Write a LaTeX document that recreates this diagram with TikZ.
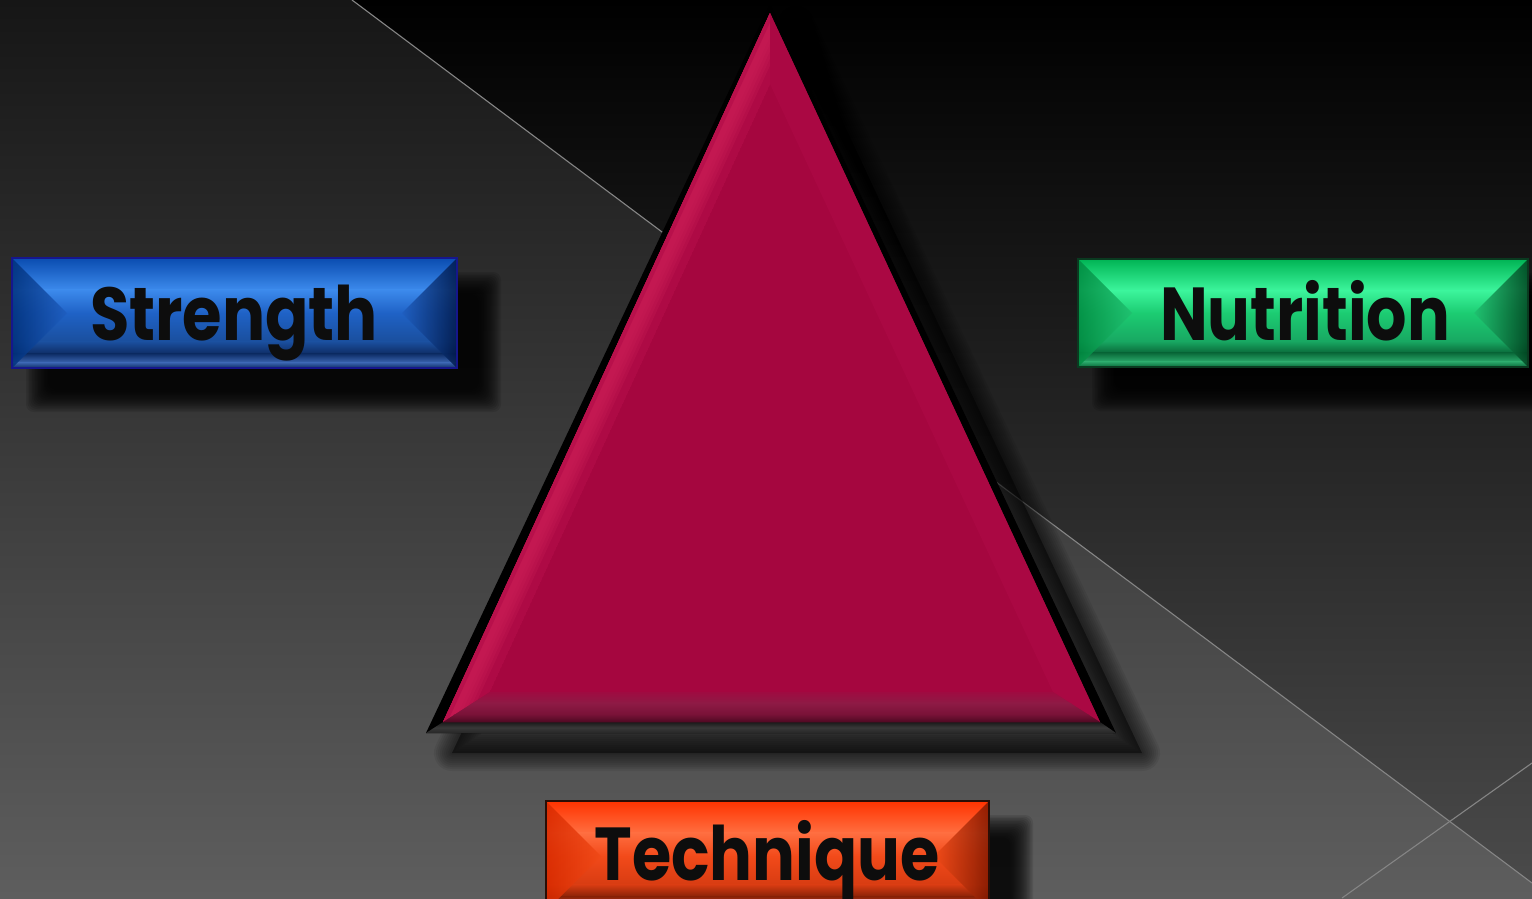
\documentclass[tikz,border=0pt]{standalone}
\usepackage{fontspec}
\usepackage{graphicx}
\usetikzlibrary{calc}
\newfontfamily\btnfont{Poppins}

\definecolor{bgLtop}{HTML}{161616}
\definecolor{bgLbot}{HTML}{5E5E5E}
\definecolor{bgRbot}{HTML}{4A4A4A}
\definecolor{linegray}{HTML}{858585}
\definecolor{txtblack}{HTML}{0D0D0D}
\definecolor{crimC}{HTML}{A5063F}
\definecolor{crimL}{HTML}{AE0A45}
\definecolor{crimHi}{HTML}{C81C55}
\definecolor{crimEdge}{HTML}{B40E49}
\definecolor{crimR}{HTML}{AA0843}
\definecolor{crimB1}{HTML}{A20840}
\definecolor{crimB2}{HTML}{8E1A45}
\definecolor{crimB3}{HTML}{7A1238}
\definecolor{crimB4}{HTML}{4A0820}

\definecolor{blueA}{HTML}{0A4CB0}
\definecolor{blueB}{HTML}{3C8AEC}
\definecolor{blueC}{HTML}{1F62C6}
\definecolor{blueD}{HTML}{1A4F9E}
\definecolor{blueE}{HTML}{0E2D66}
\definecolor{blueF}{HTML}{3A64B0}
\definecolor{blueG}{HTML}{16168C}
\definecolor{blueO}{HTML}{00307A}
\definecolor{blueP}{HTML}{1F5EC0}
\definecolor{blueQ}{HTML}{001848}

\definecolor{greenA}{HTML}{00B454}
\definecolor{greenB}{HTML}{3CF59C}
\definecolor{greenC}{HTML}{1CCC72}
\definecolor{greenD}{HTML}{18A862}
\definecolor{greenE}{HTML}{0A6A3A}
\definecolor{greenF}{HTML}{2AA86A}
\definecolor{greenG}{HTML}{0A3A20}
\definecolor{greenO}{HTML}{008A40}
\definecolor{greenP}{HTML}{20C070}
\definecolor{greenQ}{HTML}{00401E}

\definecolor{orangeA}{HTML}{FF3300}
\definecolor{orangeB}{HTML}{FF6E40}
\definecolor{orangeC}{HTML}{F24A1A}
\definecolor{orangeD}{HTML}{D83C12}
\definecolor{orangeE}{HTML}{8A2208}
\definecolor{orangeF}{HTML}{C04020}
\definecolor{orangeG}{HTML}{2A0E06}
\definecolor{orangeO}{HTML}{D82A00}
\definecolor{orangeP}{HTML}{F04A18}
\definecolor{orangeQ}{HTML}{801800}

\tikzset{
  bgline/.style={draw=linegray, line width=1.1pt},
  btntext/.style={font=\btnfont\bfseries\fontsize{75}{80}\selectfont, text=txtblack, inner sep=0pt, anchor=base},
  btnshadow/.style={fill=black, opacity=0.1},
  btnborder/.style={line width=2pt},
}

% x1, y1, x2, y2 (y measured downward), colour prefix
\newcommand\bevbtn[5]{%
  \pgfmathsetmacro\bxa{#1}\pgfmathsetmacro\bya{#2}%
  \pgfmathsetmacro\bxb{#3}\pgfmathsetmacro\byb{#4}%
  \pgfmathsetmacro\bh{\byb-\bya}%
  \pgfmathsetmacro\bm{\bya+\bh/2}%
  \pgfmathsetmacro\yA{\bya+0.29*\bh}%
  \pgfmathsetmacro\yB{\bya+0.50*\bh}%
  \pgfmathsetmacro\yC{\bya+0.76*\bh}%
  \pgfmathsetmacro\yD{\bya+0.87*\bh}%
  \pgfmathsetmacro\yE{\bya+0.95*\bh}%
  \foreach \k in {0,...,15}{%
    \fill[btnshadow, rounded corners=8pt] ({\bxa+14+\k*1.5},{\bya+14+\k*1.5}) rectangle ({\bxb+44-\k*1.5},{\byb+44-\k*1.5});}
  \shade[top color=#5A, bottom color=#5B] (\bxa,\bya) rectangle (\bxb,\yA);
  \shade[top color=#5B, bottom color=#5C] (\bxa,\yA) rectangle (\bxb,\yB);
  \shade[top color=#5C, bottom color=#5D] (\bxa,\yB) rectangle (\bxb,\yC);
  \shade[top color=#5D, bottom color=#5E] (\bxa,\yC) rectangle (\bxb,\yD);
  \shade[top color=#5E, bottom color=#5F] (\bxa,\yD) rectangle (\bxb,\yE);
  \shade[top color=#5F, bottom color=#5E] (\bxa,\yE) rectangle (\bxb,\byb);
  \shade[left color=#5O, right color=#5P, opacity=0.85] (\bxa,\bya) -- ({\bxa+\bh/2},\bm) -- (\bxa,\byb) -- cycle;
  \shade[left color=#5P, right color=#5Q, opacity=0.85] (\bxb,\bya) -- ({\bxb-\bh/2},\bm) -- (\bxb,\byb) -- cycle;
  \draw[btnborder, draw=#5G] (\bxa,\bya) rectangle (\bxb,\byb);
}

\begin{document}
\begin{tikzpicture}[x=1pt,y=-1pt]
\useasboundingbox (0,0) rectangle (1532,898);
\clip (0,0) rectangle (1532,898);

% background
\shade[top color=bgLtop, bottom color=bgLbot] (0,0) rectangle (1532,898);
\shade[top color=black, bottom color=bgRbot] (352,0) -- (1532,0) -- (1532,883) -- cycle;
\coordinate (l1a) at (352,0);
\coordinate (l1b) at (1532,883);
\coordinate (l2a) at (1342,898);
\coordinate (l2b) at (1532,763);
\draw[bgline] (l1a) -- (l1b);
\draw[bgline] (l2a) -- (l2b);

% triangle
\coordinate (oA) at (770,4);
\coordinate (oB) at (426,733);
\coordinate (oC) at (1116,733);
\coordinate (iA) at (770,13);
\coordinate (iB) at (443,722);
\coordinate (iC) at (1100,722);
\coordinate (I) at (771,512);
\coordinate (jA) at ($(I)!0.857!(iA)$);
\coordinate (jB) at ($(I)!0.857!(iB)$);
\coordinate (jC) at ($(I)!0.857!(iC)$);

% triangle shadow
\fill[black, opacity=0.45] ([shift={(26,20)}]oA) -- ([shift={(26,20)}]oB) -- ([shift={(26,20)}]oC) -- cycle;
\foreach \w in {36,32,...,4}{%
  \draw[black, opacity=0.07, line width=\w pt, line join=round]
    ([shift={(26,20)}]oA) -- ([shift={(26,20)}]oB) -- ([shift={(26,20)}]oC) -- cycle;}

\fill[black] (oA) -- (oB) -- (oC) -- cycle;
\shade[top color=black!90!white, bottom color=black!85!white, middle color=black!78!white]
  (iB) -- (iC) -- (oC) -- (oB) -- cycle;
\fill[crimC] (iA) -- (iB) -- (iC) -- cycle;
\begin{scope}
  \clip (iA) -- (iB) -- (jB) -- (jA) -- cycle;
  \fill[crimL] (iA) -- (iB) -- (jB) -- (jA) -- cycle;
  \foreach \w in {44,38,32,26,20}{\draw[crimHi, opacity=0.3, line width=\w pt] (iA) -- (iB);}
  \draw[crimEdge, opacity=0.7, line width=8pt] (iA) -- (iB);
\end{scope}
\fill[crimR] (iA) -- (jA) -- (jC) -- (iC) -- cycle;
\begin{scope}
  \clip (iB) -- (iC) -- (jC) -- (jB) -- cycle;
  \shade[top color=crimB1, bottom color=crimB2] (430,690) rectangle (1110,703);
  \shade[top color=crimB2, bottom color=crimB3] (430,703) rectangle (1110,714);
  \shade[top color=crimB3, bottom color=crimB4] (430,714) rectangle (1110,723);
\end{scope}

% buttons
\bevbtn{12}{258}{457}{368}{blue}
\node[btntext] (strength) at (234,340) {\resizebox{288pt}{\height}{Strength}};
\bevbtn{1078}{259}{1528}{367}{green}
\node[btntext] (nutrition) at (1305,340) {\resizebox{290pt}{\height}{Nutrition}};
\bevbtn{546}{801}{989}{911}{orange}
\node[btntext] (technique) at (767,880) {\resizebox{345pt}{\height}{Technique}};
\end{tikzpicture}
\end{document}
